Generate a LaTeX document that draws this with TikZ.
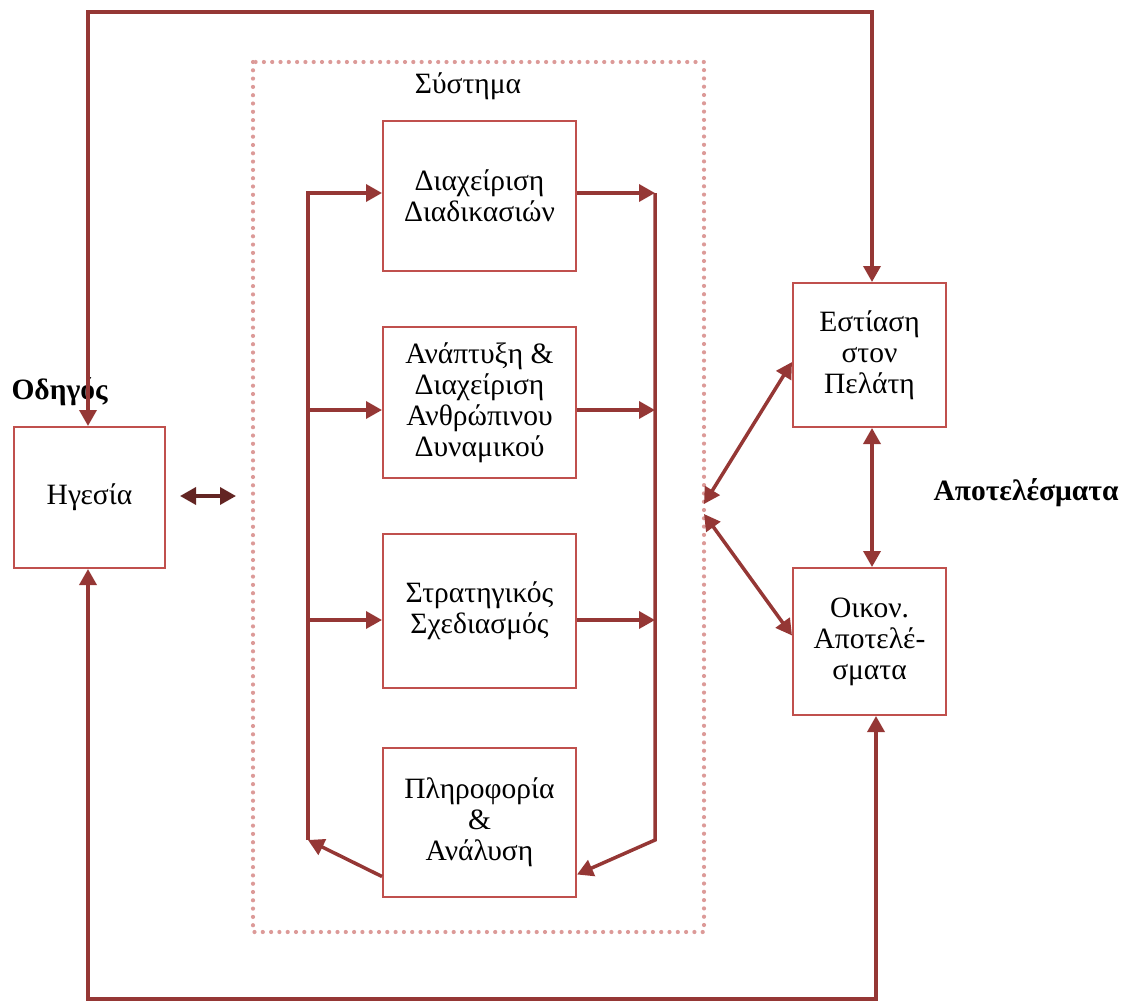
\documentclass[tikz,border=0pt]{standalone}
\usepackage{fontspec}
\setmainfont{Liberation Serif}
\usepackage{xcolor}
\usetikzlibrary{arrows.meta,positioning}

\definecolor{linered}{HTML}{953735}
\definecolor{boxred}{HTML}{C0504D}
\definecolor{dotpink}{HTML}{DC9A98}
\definecolor{darkred}{HTML}{632523}

\begin{document}
\begin{tikzpicture}[
        x=1pt, y=-1pt,
        >={Triangle[length=16pt,width=17pt]},
        box/.style={
            draw=boxred,
            line width=2pt,
            fill=white,
            align=center,
            inner sep=2pt,
            minimum width=193pt,
            font=\fontsize{29.5}{31}\selectfont
        },
        sidebox/.style={
            box,
            minimum width=153pt
        },
        flow/.style={->, draw=linered, line width=3.5pt},
        twoway/.style={<->, draw=linered, line width=3.5pt},
        title/.style={font=\fontsize{29.5}{31}\selectfont\bfseries}
    ]
        \useasboundingbox (0,0) rectangle (1126,1001);

        % Πλαίσιο του συστήματος
        \draw[dotpink, line width=4.2pt, line cap=round, dash pattern=on 0pt off 8.3pt]
            (253,62) rectangle (704,932);
        \node[font=\fontsize{29.5}{31}\selectfont] (sys) at (468,86) {Σύστημα};

        % Κόμβοι του συστήματος
        \node[box, minimum height=150pt] (proc) at (479.5,196) {Διαχείριση\\Διαδικασιών};
        \node[box, minimum height=151pt, below=54pt of proc] (people) {Ανάπτυξη \&\\Διαχείριση\\Ανθρώπινου\\Δυναμικού};
        \node[box, minimum height=154pt, below=54pt of people] (strat) {Στρατηγικός\\Σχεδιασμός};
        \node[box, minimum height=149pt, below=58pt of strat] (info) {Πληροφορία\\\&\\Ανάλυση};

        % Ηγεσία και αποτελέσματα
        \node[sidebox, minimum width=151pt, minimum height=141pt] (lead) at (89.5,497.5) {Ηγεσία};
        \node[title, anchor=west] (driver) at (8,392) {Οδηγός};
        \node[sidebox, minimum height=144pt] (cust) at (869.5,355) {Εστίαση\\στον\\Πελάτη};
        \node[sidebox, minimum height=147pt] (fin) at (869.5,641.5) {Οικον.\\Αποτελέ-\\σματα};
        \node[title, anchor=east] (results) at (1122,493) {Αποτελέσματα};

        % Σημεία για τις γραμμές
        \coordinate (lbtop) at (308,193);
        \coordinate (lbbot) at (308,840);
        \coordinate (rbtop) at (655,193);
        \coordinate (rbbot) at (655,840);
        \coordinate (lmid) at (308,410);
        \coordinate (llow) at (308,620);
        \coordinate (rmid) at (655,410);
        \coordinate (rlow) at (655,620);
        \coordinate (tl) at (88,12);
        \coordinate (tr) at (872,12);
        \coordinate (bl) at (88,999);
        \coordinate (br) at (876,999);
        \coordinate (sysin) at (704,504);
        \coordinate (sysout) at (704,514);
        \coordinate (leadout) at (180,496);
        \coordinate (leadin) at (236,496);

        % Κύκλος μέσα στο σύστημα
        \draw[flow] (lbbot) -- (lbtop) -- (lbtop -| proc.west);
        \draw[flow] (lmid) -- (lmid -| people.west);
        \draw[flow] (llow) -- (llow -| strat.west);
        \draw[flow] (rbtop -| proc.east) -- (rbtop);
        \draw[flow] (rmid -| people.east) -- (rmid);
        \draw[flow] (rlow -| strat.east) -- (rlow);
        \draw[flow] (rbtop) -- (rbbot) -- ([yshift=-52pt]info.east);
        \draw[flow] ([yshift=-54pt]info.west) -- (lbbot);

        % Σύνδεση ηγεσίας με το σύστημα
        \draw[<->, draw=darkred, line width=3.5pt] (leadout) -- (leadin);

        % Σύνδεση με τα αποτελέσματα
        \draw[twoway] (sysin) -- ([yshift=-7pt]cust.west);
        \draw[twoway] (sysout) -- ([yshift=6pt]fin.west);
        \draw[twoway] ([xshift=2.5pt]cust.south) -- ([xshift=2.5pt]fin.north);

        % Εξωτερικοί βρόχοι
        \draw[twoway] (lead.north -| tl) -- (tl) -- (tr) -- (cust.north -| tr);
        \draw[twoway] (lead.south -| bl) -- (bl) -- (br) -- (fin.south -| br);
    \end{tikzpicture}
\end{document}
